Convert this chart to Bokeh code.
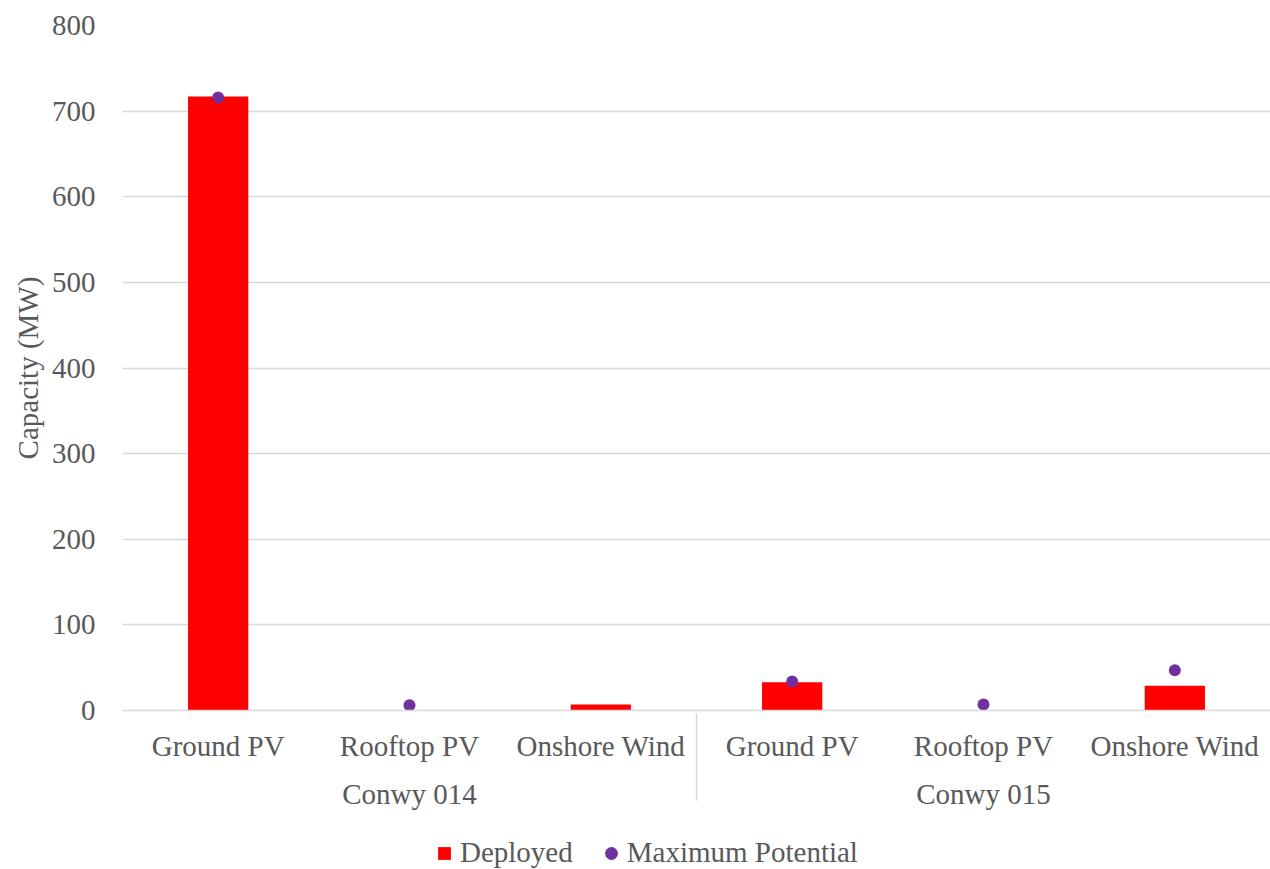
from bokeh.plotting import figure
from bokeh.layouts import column
from bokeh.models import ColumnDataSource, FactorRange, FixedTicker, Legend, LegendItem
from bokeh.embed import file_html
from bokeh.resources import INLINE

# Areas and technologies
areas = ["Conwy 014", "Conwy 015"]
technologies = ["Ground PV", "Rooftop PV", "Onshore Wind"]

# Capacity in MW per area, in technology order
deployed = {
    "Conwy 014": [717, 0, 7],
    "Conwy 015": [33, 0, 29],
}
max_potential = {
    "Conwy 014": [716, 6, None],
    "Conwy 015": [34, 7, 47],
}

y_ticks = [0, 100, 200, 300, 400, 500, 600, 700, 800]
series_names = ["Deployed", "Maximum Potential"]

FONT = "Liberation Serif"
FS = "29px"
TEXT = "#595959"
GRID = "#d9d9d9"
RED = "#ff0000"
PURPLE = "#7030a0"

factors = [(a, t) for a in areas for t in technologies]
bar_x, bar_y, dot_x, dot_y = [], [], [], []
for a in areas:
    for t, d, m in zip(technologies, deployed[a], max_potential[a]):
        if d:
            bar_x.append((a, t))
            bar_y.append(d)
        if m is not None:
            dot_x.append((a, t))
            dot_y.append(m)

bars = ColumnDataSource(dict(x=bar_x, top=bar_y))
dots = ColumnDataSource(dict(x=dot_x, y=dot_y))

# ---- main chart ----
p = figure(
    x_range=FactorRange(*factors, factor_padding=0, group_padding=0, range_padding=0),
    y_range=(0, 800),
    frame_width=1148, frame_height=685,
    output_backend="svg", toolbar_location=None,
    min_border_left=122, min_border_right=0, min_border_top=25, min_border_bottom=110,
)
p.outline_line_color = None
p.background_fill_color = "white"

p.vbar(x="x", top="top", width=0.315, source=bars, fill_color=RED, line_color=None)
p.scatter(x="x", y="y", size=12, source=dots, fill_color=PURPLE, line_color=None)

# y axis
p.yaxis.ticker = FixedTicker(ticks=y_ticks)
p.yaxis.axis_line_color = None
p.yaxis.major_tick_line_color = None
p.yaxis.minor_tick_line_color = None
p.yaxis.major_label_text_font = FONT
p.yaxis.major_label_text_font_size = FS
p.yaxis.major_label_text_color = TEXT
p.yaxis.major_label_standoff = 21
p.yaxis.axis_label = "Capacity (MW)"
p.yaxis.axis_label_text_font = FONT
p.yaxis.axis_label_text_font_style = "normal"
p.yaxis.axis_label_text_font_size = FS
p.yaxis.axis_label_text_color = TEXT
p.yaxis.axis_label_standoff = 5

p.ygrid.grid_line_color = GRID
p.ygrid.grid_line_width = 1.5
p.xgrid.grid_line_color = None

# x axis with nested categories
xa = p.xaxis[0]
xa.axis_line_color = GRID
xa.axis_line_width = 1.5
xa.major_tick_line_color = None
xa.minor_tick_line_color = None
xa.major_label_text_font = FONT
xa.major_label_text_font_size = FS
xa.major_label_text_color = TEXT
xa.major_label_standoff = 13
xa.group_text_font = FONT
xa.group_text_font_size = FS
xa.group_text_font_style = "normal"
xa.group_text_color = TEXT
xa.separator_line_color = GRID
xa.separator_line_width = 1.5

# ---- legend strip (frame is aligned with the chart's frame) ----
lf = figure(
    width=1270, height=49,
    x_range=(0, 1), y_range=(0, 1),
    output_backend="svg", toolbar_location=None,
    min_border_left=0, min_border_right=0, min_border_top=0, min_border_bottom=0,
)
lf.axis.visible = False
lf.grid.grid_line_color = None
lf.outline_line_color = None

# swatch renderers: their single point lies outside the visible range
swatch = ColumnDataSource(dict(x=[-5], y=[-5]))
k_bar = lf.scatter(x="x", y="y", marker="square", size=13, source=swatch,
                   fill_color=RED, line_color=None)
k_dot = lf.scatter(x="x", y="y", marker="circle", size=12, source=swatch,
                   fill_color=PURPLE, line_color=None)

legend = Legend(
    items=[
        LegendItem(label=series_names[0], renderers=[k_bar]),
        LegendItem(label=series_names[1], renderers=[k_dot]),
    ],
    orientation="horizontal",
    location=(306, 0),
    label_text_font=FONT,
    label_text_font_size=FS,
    label_text_color=TEXT,
    border_line_color=None,
    background_fill_alpha=0,
    glyph_width=32,
    glyph_height=32,
    spacing=22,
    label_standoff=-4,
    padding=0,
    margin=0,
)
lf.add_layout(legend, "center")

layout = column(p, lf, spacing=0)
open("out.html", "w").write(file_html(layout, INLINE))
